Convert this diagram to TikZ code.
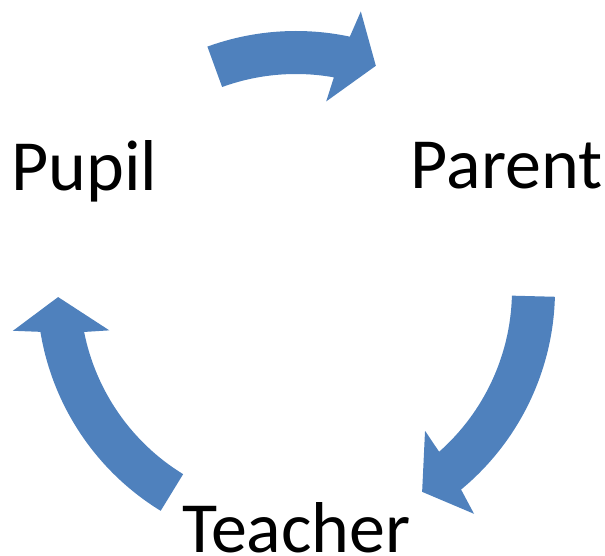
\documentclass[tikz,border=0pt]{standalone}
\usepackage{fontspec}
\setmainfont{Carlito}
\usepackage{tikz}

\definecolor{arrowblue}{HTML}{4F81BD}

% curved block arrow on the ring: #1 = tail angle, #2 = angle where the head starts
\newcommand{\cyclearrow}[2]{%
    \fill[cyclefill] (#1:259) arc[start angle=#1, end angle=#2, radius=259pt]
        -- ({#2-1.1}:286) -- ({#2-7.6}:238) -- ({#2+2.9}:191) -- ({#2+1.9}:216)
        arc[start angle={#2+1.9}, end angle=#1, radius=216pt] -- cycle;%
}

\tikzset{
    cyclefill/.style={arrowblue, draw=none},
    rolelabel/.style={anchor=base, inner sep=0pt, text depth=0pt, font=\fontsize{72}{86}\selectfont}
}

\begin{document}
\begin{tikzpicture}[x=1pt, y=1pt]
    \useasboundingbox (0,0) rectangle (605,-556);

    % Roles in the cycle
    \node[rolelabel] (pupil) at (84.5,-191) {Pupil};
    \node[rolelabel] (parent) at (506.5,-189) {Parent};
    \node[rolelabel] (teacher) at (296.5,-552) {Teacher};

    % Arrows around the ring, clockwise
    \begin{scope}[shift={(296,-290)}]
        \cyclearrow{110}{78}        % pupil -> parent
        \cyclearrow{-1.5}{-50.4}    % parent -> teacher
        \cyclearrow{238.5}{189.3}   % teacher -> pupil
    \end{scope}
\end{tikzpicture}
\end{document}
